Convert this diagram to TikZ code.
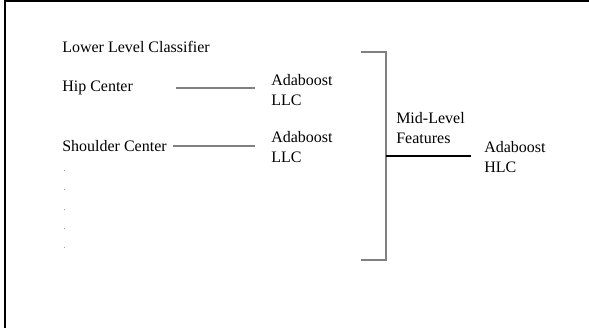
\documentclass[tikz,border=0pt]{standalone}
\usepackage{fontspec}
\setmainfont{Liberation Serif}
\usepackage{tikz}
\usetikzlibrary{positioning}
\tikzset{lbl/.style={anchor=west,inner sep=0pt,align=left,font=\fontsize{12}{15}\selectfont},
         link/.style={draw=gray,line width=1.5pt},
         brack/.style={draw=gray,line width=1.6pt}}

\begin{document}
\begin{tikzpicture}[x=0.75pt,y=-0.75pt]
\useasboundingbox (0,0) rectangle (589,328);
\draw[line width=1.5pt] (5,328)--(5,1.5)--(589,1.5);
\node[lbl] (title) at (62,47) {Lower Level Classifier};
\node[lbl] (hip) at (62,88) {Hip Center};
\node[lbl] (shoulder) at (62,146) {Shoulder Center};
\node[lbl] (llcA) at (271,90) {Adaboost\\LLC};
\node[lbl] (llcB) at (271,147) {Adaboost\\LLC};
\node[lbl] (midfeat) at (396,128) {Mid-Level\\Features};
\node[lbl] (hlc) at (484,157) {Adaboost\\HLC};
\foreach \y/\n in {171/1,190/2,210/3,229/4,248/5}
  \node[lbl,font=\fontsize{7}{8}\selectfont,text=gray] (dot\n) at (63,\y) {.};
\coordinate (hipend) at (176,88);
\coordinate (llcAend) at (255,88);
\coordinate (shoulderend) at (173,146);
\coordinate (llcBend) at (255,146);
\draw[link] (hipend) -- (llcAend);
\draw[link] (shoulderend) -- (llcBend);
\coordinate (btop) at (361,52);
\coordinate (bbot) at (361,260);
\coordinate (bmid) at (386,156);
\coordinate (hlcend) at (471,156);
\draw[brack] (btop) -| (bmid) |- (bbot);
\draw[line width=0.8pt] (bmid) -- (hlcend);
\end{tikzpicture}
\end{document}
